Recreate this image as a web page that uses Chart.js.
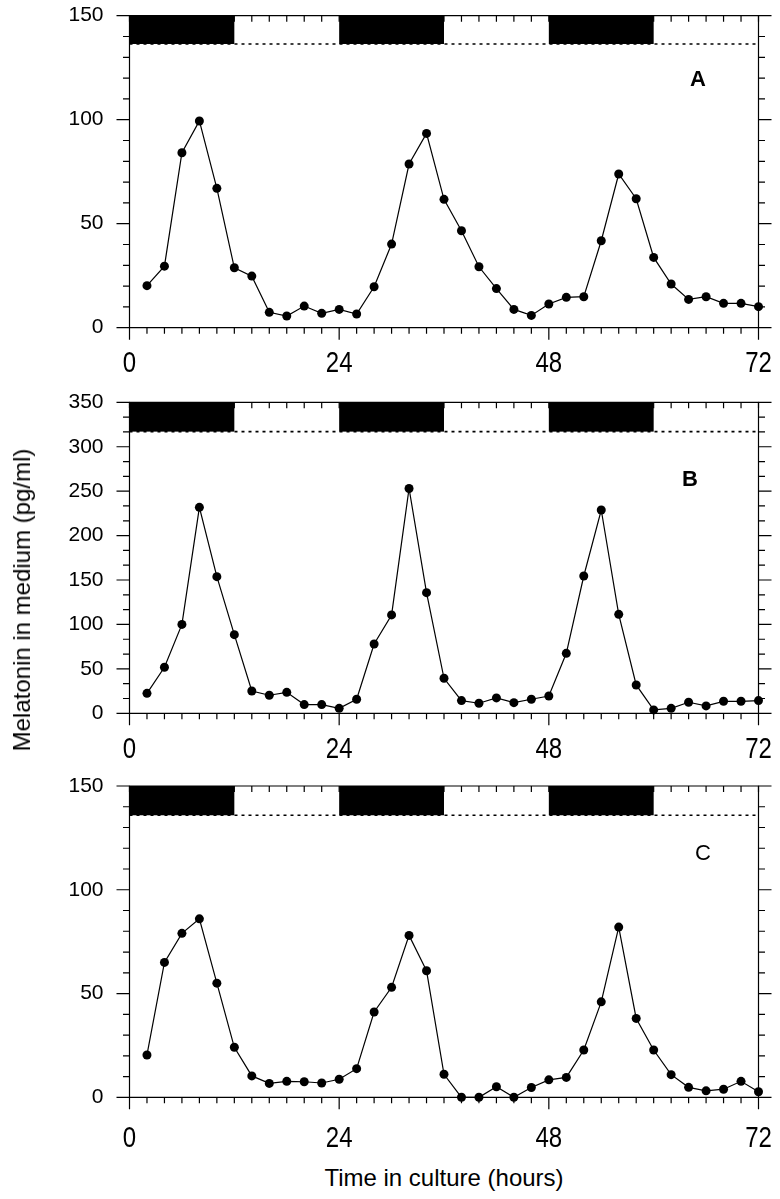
<!DOCTYPE html>
<html><head><meta charset="utf-8">
<script src="https://cdn.jsdelivr.net/npm/chart.js@4.4.0/dist/chart.umd.min.js"></script>
<style>
html,body{margin:0;padding:0;background:#fff;width:780px;height:1199px;overflow:hidden;position:relative;}
canvas{position:absolute;left:0;}
.lbl{position:absolute;font-family:"Liberation Sans",Arial,sans-serif;color:#000;white-space:nowrap;line-height:1;}
</style></head><body>
<canvas id="cA" width="780" height="390" style="top:0px"></canvas>
<canvas id="cB" width="780" height="395" style="top:380px"></canvas>
<canvas id="cC" width="780" height="395" style="top:765px"></canvas>
<div class="lbl" id="ytitle" style="left:22px;top:600px;font-size:24px;transform:translate(-50%,-50%) rotate(-90deg);">Melatonin in medium (pg/ml)</div>
<div class="lbl" id="xtitle" style="left:444px;top:1165.5px;font-size:24px;transform:translateX(-50%);">Time in culture (hours)</div>
<div class="lbl" style="left:698px;top:79px;font-size:22px;font-weight:bold;transform:translate(-50%,-50%);">A</div>
<div class="lbl" style="left:690px;top:479px;font-size:22px;font-weight:bold;transform:translate(-50%,-50%);">B</div>
<div class="lbl" style="left:703px;top:853px;font-size:22px;transform:translate(-50%,-50%);">C</div>
<script>
// ---- data ----
const hours = [2,4,6,8,10,12,14,16,18,20,22,24,26,28,30,32,34,36,38,40,42,44,46,48,50,52,54,56,58,60,62,64,66,68,70,72];
const melatoninA = [20.2,29.6,84.1,99.4,67,28.8,24.8,7.4,5.6,10.4,6.9,8.8,6.6,19.7,40.2,78.7,93.4,61.7,46.6,29.3,18.8,8.8,5.9,11.4,14.6,14.9,41.8,73.9,62,33.8,21,13.6,14.9,11.7,11.7,10.1];
const melatoninB = [22.5,51.8,100,231.8,153.8,88.5,25.1,20.3,23.6,9.8,9.8,5.6,15.8,78,110.7,253,135.8,39.4,14.3,11.3,17.3,12,15.8,19.5,67.5,154.5,228.8,111.4,31.9,3.8,5.6,12.4,8.3,13.5,13.5,14.3];
const melatoninC = [20.4,65,79,86,55,24.1,10.3,6.7,7.7,7.5,6.9,8.7,13.8,41.1,53,78,61,11.1,0,0,5.1,0,4.7,8.4,9.6,22.8,46,82,38,22.8,10.9,4.8,3.1,3.9,7.7,2.7];
const xTickLabels = [0,24,48,72];
const yTicksA = [0,50,100,150];
const yTicksB = [0,50,100,150,200,250,300,350];
const yTicksC = [0,50,100,150];
const darkPeriods = [[0,12],[24,36],[48,60]];   // hours of darkness
const barBottoms = [136.4, 317, 135.9];         // lower edge of light/dark bar (y units)

const frame = {
  id:'frame',
  beforeDatasetsDraw(chart, args, o){
    const {ctx, scales:{x,y}} = chart;
    const L=x.getPixelForValue(0), R=x.getPixelForValue(72);
    const T=y.getPixelForValue(y.max), B=y.getPixelForValue(0);
    const yb=y.getPixelForValue(o.barBottom);
    ctx.save();
    ctx.strokeStyle='#000'; ctx.fillStyle='#000';
    ctx.lineWidth=1.6; ctx.setLineDash([3,4]);
    ctx.beginPath(); ctx.moveTo(L,yb); ctx.lineTo(R,yb); ctx.stroke();
    ctx.setLineDash([]);
    darkPeriods.forEach(([a,b])=>{
      const xa=x.getPixelForValue(a), xb=x.getPixelForValue(b);
      ctx.fillRect(xa,T,xb-xa,yb-T);
    });
    ctx.lineWidth=1.2;
    ctx.beginPath();
    ctx.moveTo(L,T); ctx.lineTo(R,T); ctx.lineTo(R,B); ctx.lineTo(L,B); ctx.closePath();
    ctx.stroke();
    const n=Math.round(y.max/o.minor);
    ctx.beginPath();
    for(let i=0;i<=n;i++){
      const py=y.getPixelForValue(i*o.minor);
      const major=(i%o.every)===0;
      const len=major?13:6.5;
      ctx.moveTo(L-len,py); ctx.lineTo(L,py);
      ctx.moveTo(R,py); ctx.lineTo(R+len,py);
    }
    for(let h=0;h<=72;h+=2){
      const px=x.getPixelForValue(h);
      const len=(h%24===0)?12:6;
      ctx.moveTo(px,B); ctx.lineTo(px,B+len);
      ctx.moveTo(px,T); ctx.lineTo(px,T+6);
    }
    ctx.stroke();
    ctx.restore();
  },
  afterDraw(chart, args, o){
    // condensed x tick labels, placed with the x scale
    const {ctx, scales:{x}} = chart;
    const B=chart.chartArea.bottom;
    ctx.save();
    ctx.fillStyle='#000';
    ctx.font="30px 'Liberation Sans', Arial, sans-serif";
    ctx.textAlign='center'; ctx.textBaseline='middle';
    xTickLabels.forEach(v=>{
      ctx.save();
      ctx.translate(x.getPixelForValue(v), B+o.labelOffset);
      ctx.scale(0.8,1);
      ctx.fillText(String(v),0,0);
      ctx.restore();
    });
    ctx.restore();
  }
};

function makePanel(id, values, yTicks, minor, every, barBottom, topPad, xAxisH, labelOffset){
  const ymax=yTicks[yTicks.length-1];
  return new Chart(document.getElementById(id),{
    type:'line',
    data:{datasets:[{
      data:hours.map((h,i)=>({x:h,y:values[i]})),
      borderColor:'#000',borderWidth:1.2,tension:0,
      pointRadius:4.5,pointBackgroundColor:'#000',pointBorderColor:'#000',pointBorderWidth:0,
      clip:false
    }]},
    options:{
      responsive:false,animation:false,devicePixelRatio:1,
      layout:{autoPadding:false,padding:{top:topPad,right:21.5,left:0,bottom:0}},
      plugins:{legend:{display:false},tooltip:{enabled:false},frame:{barBottom,minor,every,labelOffset}},
      scales:{
        x:{type:'linear',min:0,max:72,
           grid:{display:false,drawTicks:false},border:{display:false},
           afterBuildTicks(s){s.ticks=xTickLabels.map(v=>({value:v}));},
           ticks:{display:false},
           afterFit(s){s.height=xAxisH;s.paddingLeft=0;s.paddingRight=0;}},
        y:{type:'linear',min:0,max:ymax,
           grid:{display:false,drawTicks:false},border:{display:false},
           afterBuildTicks(s){s.ticks=yTicks.map(v=>({value:v}));},
           ticks:{autoSkip:false,padding:26,color:'#000',
                  font:{family:"'Liberation Sans',Arial,sans-serif",size:21}},
           afterFit(s){s.width=129.5;s.paddingTop=0;s.paddingBottom=0;}}
      }
    },
    plugins:[frame]
  });
}
makePanel('cA',melatoninA,yTicksA,10,5,barBottoms[0],15.7,62.3,36);
makePanel('cB',melatoninB,yTicksB,50/3,3,barBottoms[1],22.3,61.7,36);
makePanel('cC',melatoninC,yTicksC,10,5,barBottoms[2],21,62.7,41);
</script>
</body></html>
